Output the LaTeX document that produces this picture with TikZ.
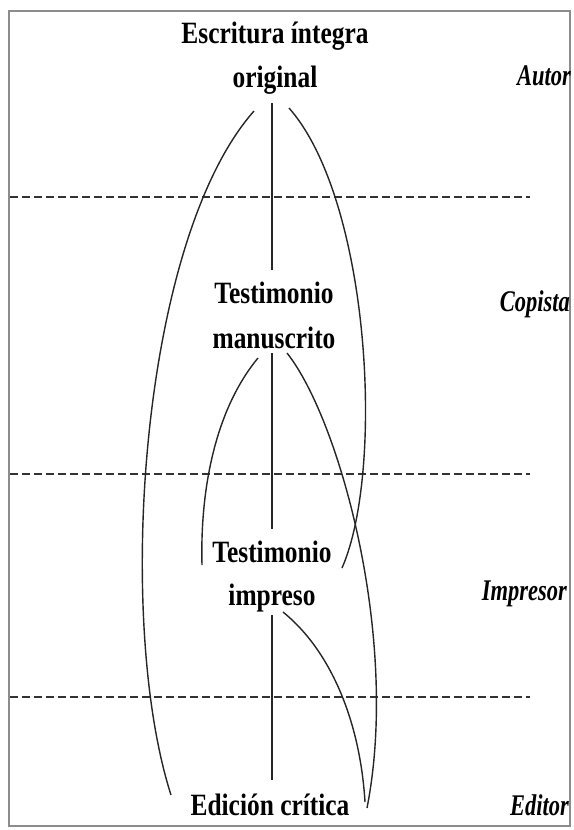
\documentclass[tikz,border=0pt]{standalone}
\usepackage{fontspec}
\usepackage{tikz}
\usetikzlibrary{calc}
\newfontfamily\stagefont[FakeStretch=0.82]{Liberation Serif}
\newfontfamily\rolefont[FakeStretch=0.75]{Liberation Serif}
\tikzset{
  stage/.style={font=\stagefont\bfseries\fontsize{31}{31}\selectfont,
                inner sep=0pt, anchor=base},
  role/.style={font=\rolefont\bfseries\itshape\fontsize{30}{30}\selectfont,
               inner sep=0pt, anchor=base east},
  lnk/.style={line width=1.4pt, draw=black!85},
  tier/.style={line width=1.1pt, dash pattern=on 8pt off 4pt, draw=black!80},
  frame/.style={line width=1.3pt, draw=black!45},
}

\begin{document}
\begin{tikzpicture}[x=1pt, y=-1pt]
\useasboundingbox (0,0) rectangle (573,830);
\draw[frame] (9,11) rectangle (570,826);

% ---- STAGES ----
\node[stage] (orig1) at (275,43)  {Escritura íntegra};
\node[stage] (orig)  at (275,87)  {original};
\node[stage] (manu1) at (274,303) {Testimonio};
\node[stage] (manu)  at (274,348) {manuscrito};
\node[stage] (impr1) at (272,562) {Testimonio};
\node[stage] (impr)  at (272,605) {impreso};
\node[stage] (edic)  at (270,815) {Edición crítica};

% ---- ROLES ----
\node[role] (autor)    at (571,85)  {Autor};
\node[role] (copista)  at (570,311) {Copista};
\node[role] (impresor) at (567,600) {Impresor};
\node[role] (editor)   at (569,815) {Editor};

% ---- tiers ----
\foreach \y in {197,474,697}
  \draw[tier] (10,\y) -- (530,\y);

% ---- edges ----
\draw[lnk] ($(orig.base)+(-3,16)$) -- ($(manu1.base)+(-2,-33)$);
\draw[lnk] ($(manu.base)+(-2,5)$)  -- ($(impr1.base)+(0,-33)$);
\draw[lnk] ($(impr.base)+(0,10)$)  -- ($(edic.base)+(2,-35)$);

% curves
\draw[lnk] ($(orig.base)+(-21,24)$) .. controls +(-114,129) and +(-56,-175) .. ($(edic.base)+(-99,-20)$);
\draw[lnk] ($(orig.base)+(14,21)$)  .. controls +(81,92) and +(43,-98)     .. ($(impr1.base)+(70,6)$);
\draw[lnk] ($(manu.base)+(-16,10)$) .. controls +(-43,52) and +(-2,-75)    .. ($(impr1.base)+(-70,3)$);
\draw[lnk] ($(manu.base)+(13,5)$)   .. controls +(53,67) and +(33,-168)    .. ($(edic.base)+(97,-7)$);
\draw[lnk] ($(impr.base)+(11,7)$)   .. controls +(47,38) and +(-5,-82)     .. ($(edic.base)+(95,-13)$);

\end{tikzpicture}
\end{document}
